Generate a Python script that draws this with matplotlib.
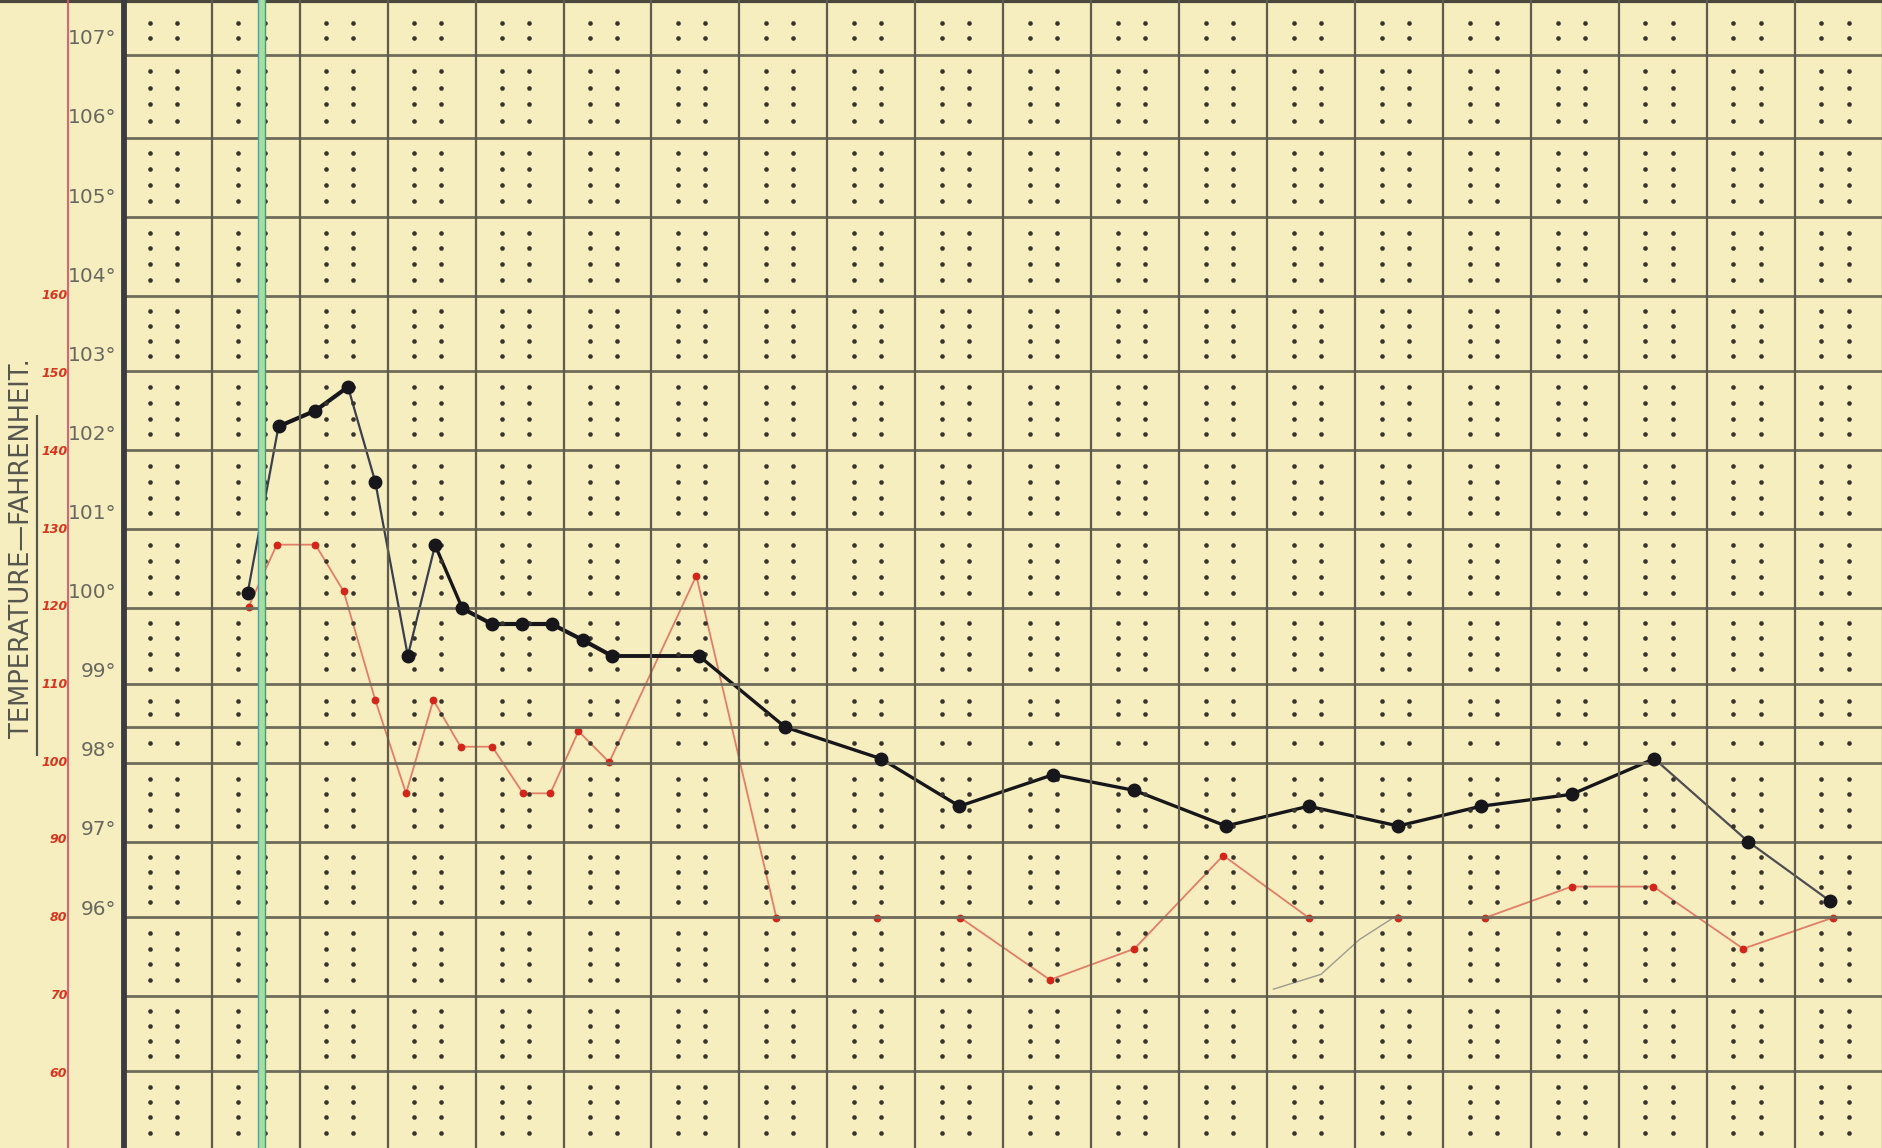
import matplotlib
matplotlib.use("Agg")
import matplotlib.pyplot as plt
import numpy as np

# ---------------- data ----------------
# x positions in "day column" units (0 = heavy left rule, 1 column per day)
temp_x = [1.41, 1.76, 2.18, 2.55, 2.86, 3.23, 3.54, 3.85, 4.19, 4.53, 4.87, 5.22, 5.55,
          6.54, 7.52, 8.61, 9.50, 10.57, 11.49, 12.53, 13.47, 14.49, 15.43, 16.46,
          17.40, 18.47, 19.40]
temp_f = [100.0, 102.1, 102.3, 102.6, 101.4, 99.2, 100.6, 99.8, 99.6, 99.6, 99.6, 99.4, 99.2,
          99.2, 98.3, 97.9, 97.3, 97.7, 97.5, 97.05, 97.3, 97.05, 97.3, 97.45,
          97.9, 96.85, 96.1]

pulse_x = [1.42, 1.74, 2.18, 2.50, 2.86, 3.21, 3.52, 3.83, 4.19, 4.54, 4.85, 5.17, 5.52,
           6.51, 7.42, 8.56, 9.51, 10.53, 11.49, 12.50, 13.47, 14.49, 15.48, 16.46,
           17.39, 18.41, 19.43]
pulse = [120, 128, 128, 122, 108, 96, 108, 102, 102, 96, 96, 104, 100,
         124, 80, 80, 80, 72, 76, 88, 80, 80, 80, 84,
         84, 76, 80]

# faint stray pencil stroke near day 13-14
pencil_x = [13.07, 13.61, 14.05, 14.49]
pencil_pulse = [70.8, 72.7, 77.2, 80.4]

temp_ticks = [107, 106, 105, 104, 103, 102, 101, 100, 99, 98, 97, 96]
pulse_ticks = [160, 150, 140, 130, 120, 110, 100, 90, 80, 70, 60]
axis_title = "TEMPERATURE—FAHRENHEIT."

# chart-paper ruling
days = list(range(0, 21))
hrules = [106.8, 105.75, 104.75, 103.75, 102.8, 101.8, 100.8, 99.8, 98.85, 98.3,
          97.85, 96.85, 95.9, 94.9, 93.95]

# ---------------- layout ----------------
XMIN, XMAX = -1.406, 20.0
TMIN, TMAX = 92.98, 107.49
PMIN, PMAX = 50.36, 198.09

PAPER = "#f6eebe"
RULE = "#5f5c4e"
INK = "#17171b"

fig = plt.figure(figsize=(18.83, 11.48), dpi=100)
fig.patch.set_facecolor(PAPER)
ax = fig.add_axes([0, 0, 1, 1])
ax.set_facecolor(PAPER)
ax.set_xlim(XMIN, XMAX)
ax.set_ylim(TMIN, TMAX)
ax.axis("off")

# horizontal rules
ax.hlines(hrules, 0, XMAX, colors="#6f6b5a", linewidth=2.0, zorder=1)
ax.hlines([TMAX - 0.01], XMIN, XMAX, colors="#4a473c", linewidth=3, zorder=1)
# vertical rules
ax.vlines(days[1:], TMIN, TMAX, colors=RULE, linewidth=1.6, zorder=1)
ax.vlines([0], TMIN, TMAX, colors="#3b3b42", linewidth=4.2, zorder=3)

# dot pattern inside each box
bounds = [TMAX] + hrules + [TMIN]
dot_fracs = []
for i in range(len(bounds) - 1):
    top, bot = bounds[i], bounds[i + 1]
    if i == 0:
        fr = [0.43, 0.70]
    elif abs(top - 98.85) < 1e-6:
        fr = [0.40, 0.70]
    elif abs(top - 98.3) < 1e-6:
        fr = [0.46]
    else:
        fr = [0.2, 0.4, 0.6, 0.8]
    for f in fr:
        dot_fracs.append(top - f * (top - bot))
dx, dy = [], []
for d in days[:-1]:
    for off in (0.30, 0.61):
        for yv in dot_fracs:
            dx.append(d + off)
            dy.append(yv)
ax.scatter(dx, dy, s=11, color="#36342d", linewidths=0, zorder=2)

# red pulse rule and green rule
ax.axvline((57 - 103) / 73.25, color="#e2506a", linewidth=1.3, zorder=3)
gx = (218 - 103) / 73.25
ax.axvline(gx, color="#a9dca0", linewidth=5.5, zorder=3)
ax.axvline(gx - 0.04, color="#3fa6b0", linewidth=1.0, zorder=3)
ax.axvline(gx + 0.04, color="#3f9f7a", linewidth=1.0, zorder=3)

# temperature labels
for t in temp_ticks:
    ax.text(-0.08, t, f"{t}\u00b0", ha="right", va="center", fontsize=14.5,
            color="#696860", family="DejaVu Sans", zorder=4)

# title
ax.text(-1.16, 100.56, axis_title, rotation=90, ha="center", va="center",
        fontsize=18.5, color="#56554f", family="DejaVu Sans", zorder=4)
ax.vlines([-0.985], 97.93, 102.25, colors="#56554f", linewidth=1.6, zorder=4)

# pulse axis
ax2 = ax.twinx()
ax2.set_ylim(PMIN, PMAX)
ax2.set_xlim(XMIN, XMAX)
ax2.axis("off")
for p in pulse_ticks:
    ax2.text((56 - 103) / 73.25, p, str(p), ha="right", va="center", fontsize=9,
             color="#d8351f", fontstyle="italic", fontweight="bold", zorder=4)

ax2.plot(pencil_x, pencil_pulse, color="#9d9c90", linewidth=1.0, zorder=4)
ax2.plot(pulse_x, pulse, color="#e37d68", linewidth=1.3, zorder=5)
ax2.plot(pulse_x, pulse, linestyle="none", marker="o", markersize=4.6,
         color="#d3261a", zorder=6)

# temperature line: segment weights vary as in the hand-drawn chart
seg_w = [1.6, 3.0, 3.0, 1.6, 1.6, 1.6, 2.4, 3.0, 3.0, 3.0, 3.0, 3.0, 2.8,
         2.4, 2.4, 2.4, 2.4, 2.4, 2.4, 2.4, 2.4, 2.4, 2.4, 2.4, 1.6, 1.6]
seg_c = ["#3a3e4e"] + [INK] * 2 + ["#3a3e4e"] * 3 + [INK] * 18 + ["#4d4d52"] * 2
for i in range(len(temp_x) - 1):
    ax2.plot([temp_x[i], temp_x[i + 1]],
             [(temp_f[i] - TMIN) / (TMAX - TMIN) * (PMAX - PMIN) + PMIN,
              (temp_f[i + 1] - TMIN) / (TMAX - TMIN) * (PMAX - PMIN) + PMIN],
             color=seg_c[i], linewidth=seg_w[i], zorder=7, solid_capstyle="round")
ax.plot(temp_x, temp_f, linestyle="none", marker="o", markersize=9,
        color=INK, zorder=8)
ax.set_zorder(ax2.get_zorder() + 1)
ax.patch.set_visible(False)

fig.savefig("out.png", dpi=100, facecolor=PAPER)
